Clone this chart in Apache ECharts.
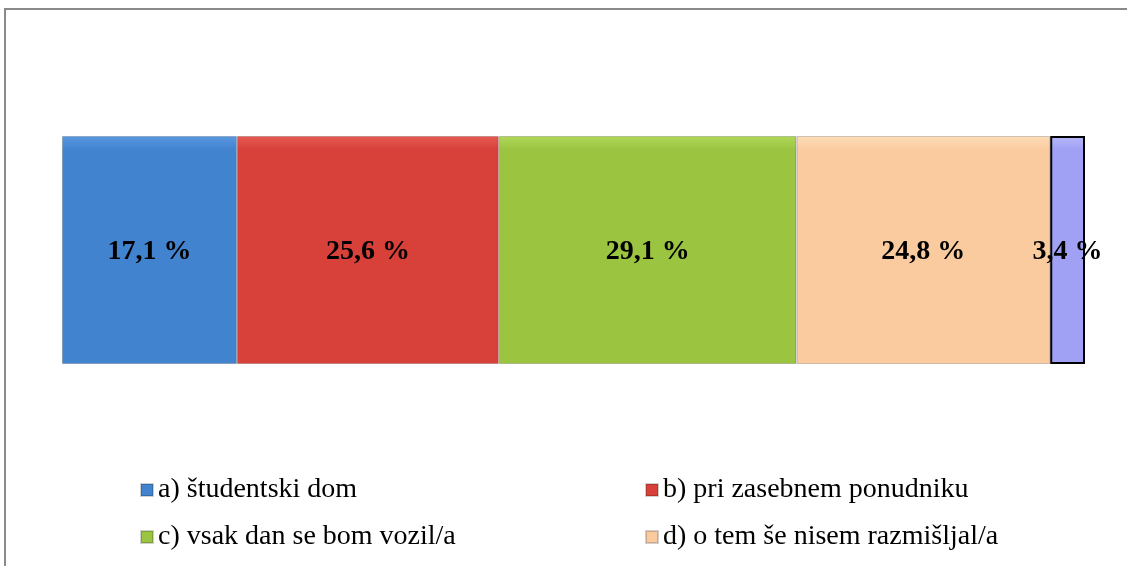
<!DOCTYPE html>
<html>
<head>
<meta charset="utf-8">
<style>
  html, body { margin: 0; padding: 0; background: #fff; }
  #chart { width: 1127px; height: 566px; }
</style>
<script src="https://cdn.jsdelivr.net/npm/echarts@6/dist/echarts.min.js"></script>
</head>
<body>
<div id="chart"></div>
<script>
// odgovori (zadnji, 5. odgovor v legendi ni viden)
var names = ['a) študentski dom', 'b) pri zasebnem ponudniku', 'c) vsak dan se bom vozil/a', 'd) o tem še nisem razmišljal/a', 'e)'];
var values = [17.1, 25.6, 29.1, 24.8, 3.4];
var colors = ['#4283d0', '#d8403a', '#9bc441', '#fbcba0', '#a0a0f5'];
var lightColors = ['#5a98e0', '#e45a52', '#b0d85a', '#fddcb8', '#b8b8fa'];

var dom = document.getElementById('chart');
var myChart = echarts.init(dom);

var series = [];
for (var i = 0; i < values.length; i++) {
    series.push({
        name: names[i],
        type: 'bar',
        stack: 'skupaj',
        barCategoryGap: 0,
        data: [values[i]],
        itemStyle: {
            color: new echarts.graphic.LinearGradient(0, 0, 0, 1, [
                { offset: 0, color: lightColors[i] },
                { offset: 0.06, color: colors[i] },
                { offset: 0.94, color: colors[i] },
                { offset: 1, color: colors[i] }
            ]),
            borderColor: i === 4 ? '#000' : 'rgba(0,0,0,0.18)',
            borderWidth: i === 4 ? 2 : 1
        },
        label: {
            show: true,
            position: 'inside',
            color: '#000',
            fontFamily: 'Liberation Serif',
            fontWeight: 'bold',
            fontSize: 28,
            offset: [0, 2],
            formatter: function (p) {
                return String(p.value).replace('.', ',') + ' %';
            }
        }
    });
}

var legendText = { fontFamily: 'Liberation Serif', fontSize: 28, color: '#000', lineHeight: 28 };

var option = {
    animation: false,
    grid: { left: 62, width: 1023, top: 136, bottom: 202 },
    xAxis: { type: 'value', min: 0, max: 100, show: false },
    yAxis: { type: 'category', data: [''], show: false },
    legend: [
        {
            left: 135, top: 471, orient: 'vertical',
            data: [names[0], names[2]],
            icon: 'rect', itemWidth: 12, itemHeight: 12, itemGap: 19,
            textStyle: legendText
        },
        {
            left: 640, top: 471, orient: 'vertical',
            data: [names[1], names[3]],
            icon: 'rect', itemWidth: 12, itemHeight: 12, itemGap: 19,
            textStyle: legendText
        }
    ],
    graphic: [
        {
            type: 'polyline',
            shape: { points: [[5, 570], [5, 9], [1130, 9]] },
            style: { stroke: '#8a8a8a', lineWidth: 2, fill: null }
        }
    ],
    series: series
};

myChart.setOption(option, true);
</script>
</body>
</html>
